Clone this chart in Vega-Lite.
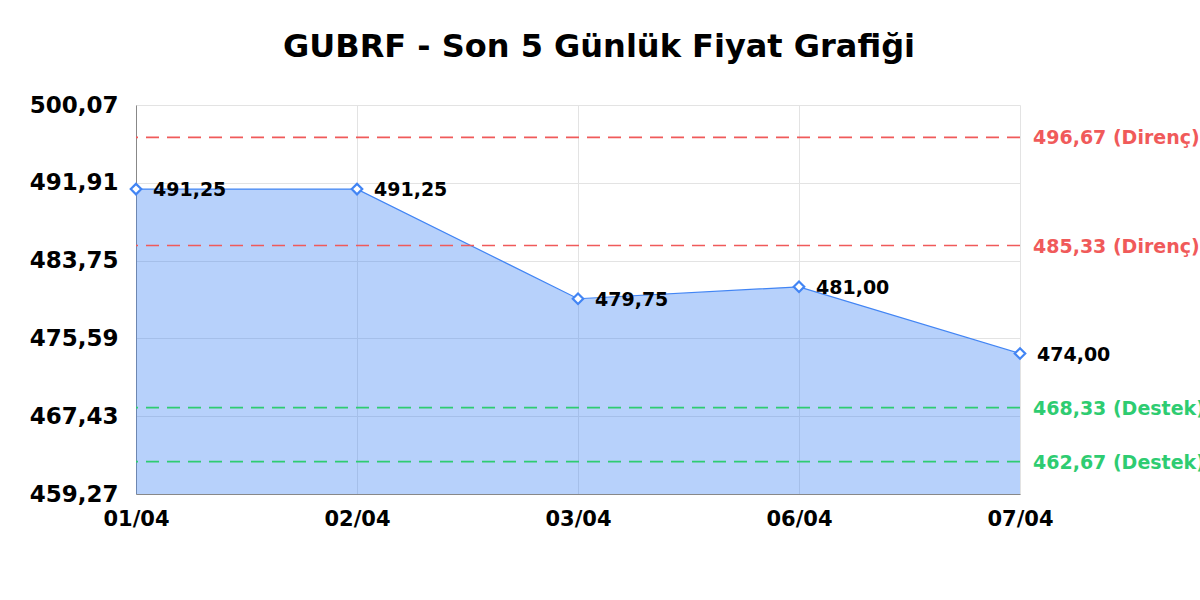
{
  "$schema": "https://vega.github.io/schema/vega-lite/v6.json",
  "width": 884,
  "height": 389,
  "autosize": {"type": "none"},
  "padding": {"left": 136, "top": 105, "right": 180, "bottom": 106},
  "background": "white",
  "title": {
    "text": "GUBRF - Son 5 Günlük Fiyat Grafiği",
    "font": "DejaVu Sans",
    "fontSize": 32,
    "fontWeight": "bold",
    "color": "#000000",
    "anchor": "middle",
    "baseline": "alphabetic",
    "offset": 5,
    "dx": 21
  },
  "datasets": {
    "prices": [
      {"date": "01/04", "price": 491.25},
      {"date": "02/04", "price": 491.25},
      {"date": "03/04", "price": 479.75},
      {"date": "06/04", "price": 481.00},
      {"date": "07/04", "price": 474.00}
    ],
    "levels": [
      {"level": 496.67, "kind": "Direnç", "label": "496,67 (Direnç)"},
      {"level": 485.33, "kind": "Direnç", "label": "485,33 (Direnç)"},
      {"level": 468.33, "kind": "Destek", "label": "468,33 (Destek)"},
      {"level": 462.67, "kind": "Destek", "label": "462,67 (Destek)"}
    ]
  },
  "encoding": {
    "x": {
      "field": "date",
      "type": "ordinal",
      "scale": {"type": "point", "padding": 0},
      "axis": {
        "title": null,
        "labelAngle": 0,
        "labelFont": "DejaVu Sans",
        "labelFontSize": 21,
        "labelFontWeight": "bold",
        "labelColor": "#000000",
        "labelPadding": 14,
        "ticks": false,
        "domainColor": "#888888",
        "gridColor": "#e3e3e3",
        "grid": true
      }
    }
  },
  "layer": [
    {
      "data": {"name": "prices"},
      "mark": {"type": "area", "color": "#4285f4", "fillOpacity": 0.38, "clip": true},
      "encoding": {
        "y": {
          "field": "price",
          "type": "quantitative",
          "scale": {"domain": [459.27, 500.07], "nice": false, "zero": false},
          "axis": {
            "title": null,
            "values": [459.27, 467.43, 475.59, 483.75, 491.91, 500.07],
            "format": ".2f",
            "labelFont": "DejaVu Sans",
            "labelFontSize": 23,
            "labelFontWeight": "bold",
            "labelColor": "#000000",
            "labelPadding": 18,
            "ticks": false,
            "domainColor": "#888888",
            "gridColor": "#e3e3e3",
            "grid": true
          }
        }
      }
    },
    {
      "data": {"name": "prices"},
      "mark": {"type": "line", "color": "#4285f4", "strokeWidth": 1.2},
      "encoding": {"y": {"field": "price", "type": "quantitative"}}
    },
    {
      "data": {"name": "levels"},
      "mark": {"type": "rule", "strokeDash": [13, 8], "strokeWidth": 1.6, "opacity": 1},
      "encoding": {
        "x": null,
        "y": {"field": "level", "type": "quantitative"},
        "color": {
          "field": "kind",
          "type": "nominal",
          "scale": {"domain": ["Direnç", "Destek"], "range": ["#f05a5a", "#2ecc71"]},
          "legend": null
        }
      }
    },
    {
      "data": {"name": "levels"},
      "mark": {
        "type": "text",
        "align": "left",
        "baseline": "middle",
        "dx": 13,
        "dy": 1,
        "font": "DejaVu Sans",
        "fontSize": 19,
        "fontWeight": "bold"
      },
      "encoding": {
        "x": {"datum": "07/04"},
        "y": {"field": "level", "type": "quantitative"},
        "text": {"field": "label"},
        "color": {"field": "kind", "type": "nominal", "legend": null}
      }
    },
    {
      "data": {"name": "prices"},
      "mark": {
        "type": "point",
        "shape": "diamond",
        "size": 110,
        "filled": false,
        "fill": "white",
        "fillOpacity": 1,
        "stroke": "#4285f4",
        "strokeWidth": 2.2,
        "opacity": 1
      },
      "encoding": {"y": {"field": "price", "type": "quantitative"}}
    },
    {
      "data": {"name": "prices"},
      "mark": {
        "type": "text",
        "align": "left",
        "baseline": "middle",
        "dx": 17,
        "dy": 1,
        "font": "DejaVu Sans",
        "fontSize": 19,
        "fontWeight": "bold",
        "color": "#000000"
      },
      "encoding": {
        "y": {"field": "price", "type": "quantitative"},
        "text": {"field": "price", "type": "quantitative", "format": ".2f"}
      }
    }
  ],
  "config": {
    "view": {"stroke": null},
    "locale": {
      "number": {"decimal": ",", "thousands": ".", "grouping": [3], "currency": ["", " TL"]}
    }
  }
}
